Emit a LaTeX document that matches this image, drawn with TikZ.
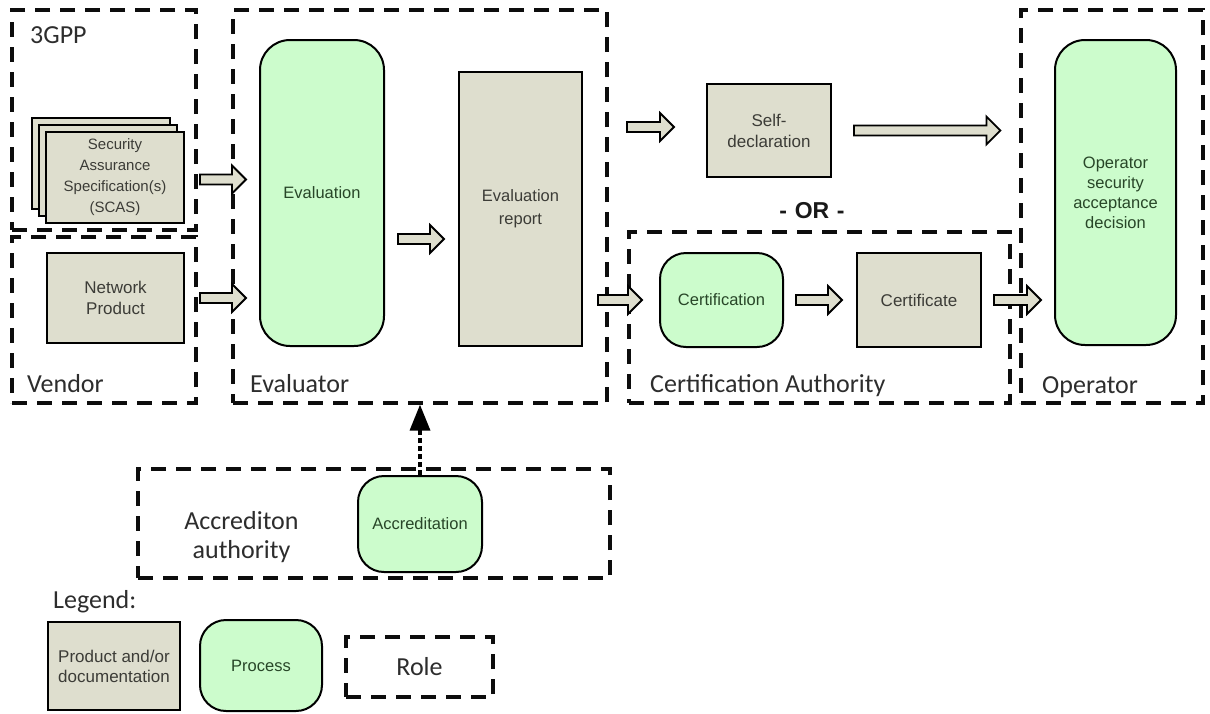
\documentclass[tikz,border=0pt]{standalone}
\usepackage{fontspec}
\setmainfont{Liberation Sans}
\newfontfamily\rolefont{Carlito}
\usetikzlibrary{calc,arrows.meta}

\definecolor{procfill}{RGB}{204,252,204}
\definecolor{docfill}{RGB}{222,222,206}
\definecolor{proctext}{RGB}{40,70,40}
\definecolor{doctext}{RGB}{60,60,55}
\definecolor{roletext}{RGB}{45,45,45}

\tikzset{
  role/.style={draw=black!95, line width=3.2, dash pattern=on 15pt off 10pt, inner sep=0},
  rolelabel/.style={text=roletext, inner sep=0, font=\rolefont\fontsize{26}{29}\selectfont},
  docnode/.style={draw=black, line width=2, fill=docfill, text=doctext, align=center,
    inner sep=0, font=\fontsize{17}{21}\selectfont},
  procnode/.style={draw=black, line width=2, fill=procfill, text=proctext, align=center,
    rounded corners=26, inner sep=0, font=\fontsize{16.5}{20}\selectfont},
  barrow/.style={draw=black, line width=1.8, fill=docfill, line join=miter},
}

% horizontal block arrow: tail point #1, tip x taken from #2
\newcommand\blockarrow[2]{%
  \draw[barrow] let \p1=#1, \p2=#2 in
    (\x1,\y1+5pt) -- (\x2-14pt,\y1+5pt) -- (\x2-14pt,\y1+14pt) -- (\x2,\y1)
    -- (\x2-14pt,\y1-14pt) -- (\x2-14pt,\y1-5pt) -- (\x1,\y1-5pt) -- cycle;
}

\begin{document}
\begin{tikzpicture}[x=1pt,y=-1pt]
\useasboundingbox[fill=white] (0,0) rectangle (1210,713);

% ---- roles ----
\node[role, minimum width=184, minimum height=220] (gpp)      at (104,120)   {};
\node[role, minimum width=184, minimum height=166] (vendor)   at (104,320)   {};
\node[role, minimum width=374, minimum height=393] (evaluator) at (420,206.5) {};
\node[role, minimum width=381, minimum height=171] (cauth)    at (819.5,317.5) {};
\node[role, minimum width=182, minimum height=393] (oprole)   at (1112,206.5) {};
\node[role, minimum width=472, minimum height=109] (accauth)  at (374,523.5) {};
\node[role, minimum width=147, minimum height=60]  (legrole)  at (419.5,667) {};

\node[rolelabel, anchor=base west] (lgpp)    at (30,43)   {3GPP};
\node[rolelabel, anchor=base west] (lvendor) at (27,392)  {Vendor};
\node[rolelabel, anchor=base west] (leval)   at (250,392) {Evaluator};
\node[rolelabel, anchor=base west] (lcauth)  at (650,392) {Certification Authority};
\node[rolelabel, anchor=base west] (lop)     at (1042,393) {Operator};
\node[rolelabel, align=center] (lacc) at (241.5,537) {Accrediton\\authority};
\node[rolelabel, anchor=base west] (llegend) at (53,608) {Legend:};
\node[rolelabel] (lrole) at (419.5,667) {Role};

\node[font=\bfseries\fontsize{23}{26}\selectfont, text=black!90, inner sep=0] (or) at (812,211) {-\,\,OR\,\,-};

% ---- products / documents ----
\node[docnode, minimum width=138, minimum height=91] (scasb) at (101,163.5) {};
\node[docnode, minimum width=138, minimum height=91] (scasm) at (108,170.5) {};
\node[docnode, minimum width=138, minimum height=91, font=\fontsize{15}{21}\selectfont] (scas) at (115,177.5)
  {Security\\Assurance\\Specification(s)\\(SCAS)};
\node[docnode, minimum width=137, minimum height=90] (np) at (115.5,298) {Network\\Product};
\node[docnode, minimum width=123, minimum height=274, font=\fontsize{16.5}{23}\selectfont] (report) at (520.5,209) {Evaluation\\report};
\node[docnode, minimum width=124, minimum height=93] (self) at (769,130.5) {Self-\\declaration};
\node[docnode, minimum width=124, minimum height=94] (certificate) at (919,300) {Certificate};
\node[docnode, minimum width=132, minimum height=88, font=\fontsize{17}{20}\selectfont] (legprod) at (114,666) {Product and/or\\documentation};

% ---- processes ----
\node[procnode, minimum width=124, minimum height=306, rounded corners=30] (eval) at (322,193) {Evaluation};
\node[procnode, minimum width=123, minimum height=94] (certif) at (721.5,300) {Certification};
\node[procnode, minimum width=121, minimum height=305, rounded corners=30] (op) at (1115.5,192.5)
  {Operator\\security\\acceptance\\decision};
\node[procnode, minimum width=124, minimum height=96] (accr) at (420,524) {Accreditation};
\node[procnode, minimum width=122, minimum height=91] (legproc) at (261,665.5) {Process};

% ---- flows ----
\blockarrow{($(scas.east)+(15,2)$)}{($(eval.west)+(-13,0)$)}
\blockarrow{($(np.east)+(15,0)$)}{($(eval.west)+(-13,0)$)}
\blockarrow{($(eval.east)+(13,46)$)}{($(report.west)+(-14,0)$)}
\blockarrow{($(report.north east)+(44,56)$)}{($(self.west)+(-32,0)$)}
\blockarrow{($(self.east)+(22,0)$)}{($(oprole.west)+(-19,0)$)}
\blockarrow{($(report.east)+(15,91)$)}{($(certif.west)+(-17,0)$)}
\blockarrow{($(certif.east)+(12,0)$)}{($(certificate.west)+(-14,0)$)}
\blockarrow{($(certificate.east)+(12,0)$)}{($(op.west)+(-13,0)$)}

\draw[line width=3.5, dash pattern=on 5pt off 3pt, -{Triangle[width=20pt,length=26pt]}]
  (accr.north) -- (evaluator.south);
\end{tikzpicture}
\end{document}
